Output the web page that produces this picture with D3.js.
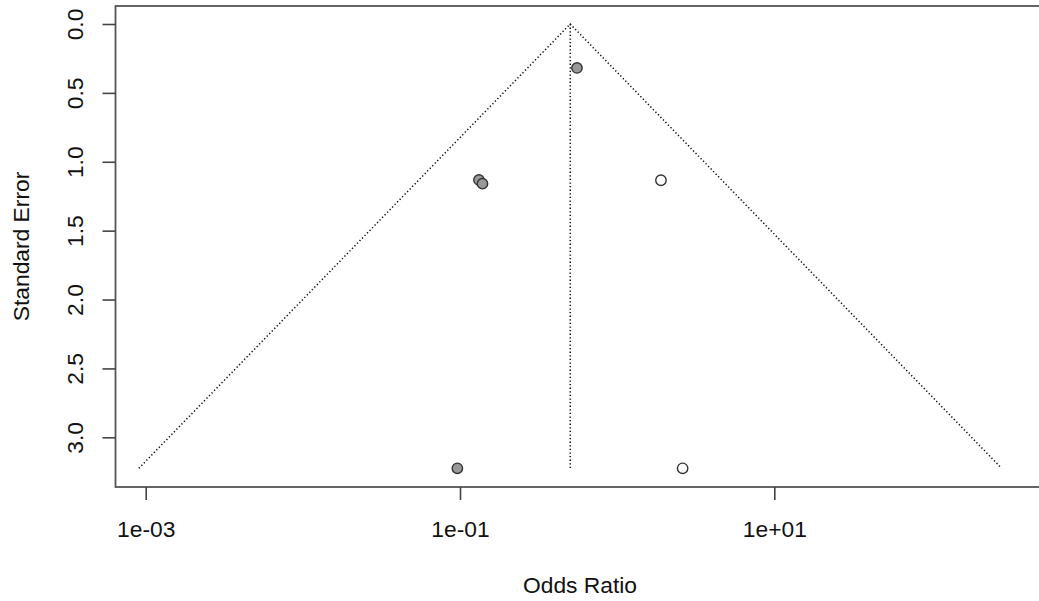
<!DOCTYPE html>
<html>
<head>
<meta charset="utf-8">
<script src="https://cdn.jsdelivr.net/npm/d3@7"></script>
<style>
html,body{margin:0;padding:0;background:#fff;}
svg{display:block;font-family:"Liberation Sans",Arial,sans-serif;}
</style>
</head>
<body>
<svg id="chart" width="1039" height="601"></svg>
<script>
// Observed studies (odds ratio, standard error)
const obsOR = [0.555, 0.132, 0.139, 0.0962];
const obsSE = [0.319, 1.132, 1.159, 3.225];
// Trim-and-fill imputed studies
const fillOR = [1.90, 2.61];
const fillSE = [1.134, 3.225];
// Pooled estimate
const estOR = 0.503;
const xTicks = [1e-3, 1e-1, 1e1];
const xTickLabels = ["1e-03", "1e-01", "1e+01"];
const yTicks = [0, 0.5, 1.0, 1.5, 2.0, 2.5, 3.0];
const xLabel = "Odds Ratio";
const yLabel = "Standard Error";

const svg = d3.select("#chart");
const box = {left: 115.5, top: 6, right: 1046, bottom: 487};
const FS = 22.8;

const x = d3.scaleLog().domain([1e-3, 1e1]).range([145.7, 774.3]);
const y = d3.scaleLinear().domain([0, 3]).range([24, 437.3]);

const maxSE = d3.max(obsSE.concat(fillSE));
const z = 1.959964;
const lnEst = Math.log(estOR);

// funnel
const funnel = [
  [Math.exp(lnEst - z * maxSE), maxSE],
  [estOR, 0],
  [Math.exp(lnEst + z * maxSE), maxSE]
];
svg.append("path")
  .attr("d", d3.line().x(d => x(d[0])).y(d => y(d[1]))(funnel))
  .attr("fill", "none").attr("stroke", "#111").attr("stroke-width", 1.5)
  .attr("stroke-dasharray", "1.3,2.3");
svg.append("line")
  .attr("x1", x(estOR)).attr("x2", x(estOR))
  .attr("y1", y(0)).attr("y2", y(maxSE))
  .attr("stroke", "#111").attr("stroke-width", 1.5)
  .attr("stroke-dasharray", "1.3,2.3");

// box
svg.append("rect")
  .attr("x", box.left).attr("y", box.top)
  .attr("width", box.right - box.left).attr("height", box.bottom - box.top)
  .attr("fill", "none").attr("stroke", "#555").attr("stroke-width", 1.8);

// points
const pts = obsOR.map((v, i) => ({or: v, se: obsSE[i], filled: false}))
  .concat(fillOR.map((v, i) => ({or: v, se: fillSE[i], filled: true})));
svg.selectAll("circle.pt").data(pts).join("circle")
  .attr("class", "pt")
  .attr("cx", d => x(d.or)).attr("cy", d => y(d.se))
  .attr("r", 5.2)
  .attr("fill", d => d.filled ? "#fff" : "#999")
  .attr("stroke", "#333").attr("stroke-width", 1.4);

// x axis
const xAxis = d3.axisBottom(x).tickValues(xTicks)
  .tickFormat((d, i) => xTickLabels[i]).tickSize(13).tickPadding(0);
const gx = svg.append("g").attr("transform", `translate(0,${box.bottom})`).call(xAxis);
gx.select(".domain").remove();
gx.selectAll(".tick line").attr("stroke", "#444").attr("stroke-width", 1.6);
gx.selectAll(".tick text").attr("font-size", FS).attr("fill", "#111")
  .attr("y", 49.5).attr("dy", null);

// y axis
const yAxis = d3.axisLeft(y).tickValues(yTicks)
  .tickFormat(d3.format(".1f")).tickSize(13).tickPadding(0);
const gy = svg.append("g").attr("transform", `translate(${box.left},0)`).call(yAxis);
gy.select(".domain").remove();
gy.selectAll(".tick line").attr("stroke", "#444").attr("stroke-width", 1.6);
gy.selectAll(".tick text").attr("font-size", FS).attr("fill", "#111")
  .attr("x", null).attr("dy", null)
  .attr("text-anchor", "middle")
  .attr("transform", "translate(-32.8,0) rotate(-90)");

// axis titles
svg.append("text").attr("x", 580).attr("y", 593)
  .attr("text-anchor", "middle").attr("font-size", FS).attr("fill", "#111")
  .text(xLabel);
svg.append("text").attr("transform", `translate(28.5,${(box.top + box.bottom) / 2}) rotate(-90)`)
  .attr("text-anchor", "middle").attr("font-size", FS).attr("fill", "#111")
  .text(yLabel);
</script>
</body>
</html>
